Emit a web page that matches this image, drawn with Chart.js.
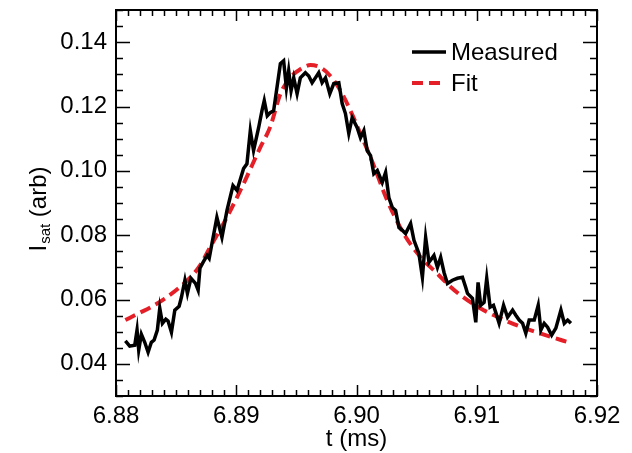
<!DOCTYPE html>
<html>
<head>
<meta charset="utf-8">
<script src="https://cdn.jsdelivr.net/npm/chart.js@4/dist/chart.umd.min.js"></script>
<style>
html,body{margin:0;padding:0;background:#fff;}
#wrap{width:632px;height:453px;position:relative;}
</style>
</head>
<body>
<div id="wrap"><canvas id="c" width="632" height="453"></canvas></div>
<script>
// Measured trace: time (ms) and I_sat (arb)
const measT = [6.88078,6.88114,6.88156,6.88175,6.88189,6.88211,6.88239,6.88267,6.88294,6.88317,
  6.88344,6.88364,6.88386,6.88414,6.88433,6.88461,6.88489,6.88525,6.88544,6.88573,
  6.88594,6.88623,6.88661,6.88683,6.88698,6.88725,6.88758,6.88775,6.88798,6.88839,
  6.88881,6.88923,6.88973,6.89006,6.89061,6.89089,6.89117,6.89144,6.89186,6.89214,
  6.89233,6.89258,6.89283,6.89311,6.89367,6.89394,6.89417,6.89436,6.89456,6.89478,
  6.89506,6.89533,6.89575,6.89603,6.89631,6.89658,6.89686,6.89714,6.89742,6.89778,
  6.89811,6.89853,6.89881,6.89908,6.89936,6.89964,6.90006,6.90033,6.90061,6.90089,
  6.90117,6.90144,6.90173,6.90214,6.90242,6.90269,6.90298,6.90325,6.90353,6.90381,
  6.90408,6.90450,6.90478,6.90519,6.90548,6.90575,6.90603,6.90644,6.90673,6.90700,
  6.90728,6.90756,6.90798,6.90839,6.90881,6.90908,6.90923,6.90964,6.90992,6.91011,
  6.91033,6.91061,6.91083,6.91111,6.91139,6.91158,6.91186,6.91223,6.91256,6.91298,
  6.91325,6.91353,6.91381,6.91408,6.91436,6.91478,6.91511,6.91533,6.91561,6.91589,
  6.91623,6.91658,6.91700,6.91728,6.91756,6.91783];
const measV = [0.0471,0.0455,0.0458,0.0505,0.0443,0.0492,0.0467,0.0436,0.0467,0.0474,
  0.0505,0.0573,0.0526,0.0539,0.0533,0.0498,0.0567,0.0579,0.0607,0.0660,
  0.0619,0.0666,0.0650,0.0629,0.0697,0.0716,0.0737,0.0728,0.0774,0.0855,
  0.0793,0.0877,0.0954,0.0939,0.1007,0.1022,0.1125,0.1063,0.1134,0.1187,
  0.1218,0.1171,0.1181,0.1187,0.1333,0.1342,0.1258,0.1311,0.1249,0.1289,
  0.1240,0.1289,0.1305,0.1295,0.1274,0.1289,0.1305,0.1274,0.1289,0.1240,
  0.1271,0.1274,0.1209,0.1178,0.1116,0.1165,0.1134,0.1103,0.1125,0.1063,
  0.1047,0.0991,0.1001,0.0964,0.0995,0.0917,0.0886,0.0877,0.0824,0.0815,
  0.0805,0.0836,0.0784,0.0743,0.0669,0.0793,0.0716,0.0737,0.0700,0.0731,
  0.0684,0.0650,0.0660,0.0666,0.0669,0.0638,0.0619,0.0604,0.0529,0.0653,
  0.0582,0.0591,0.0666,0.0576,0.0582,0.0560,0.0526,0.0582,0.0545,0.0567,
  0.0551,0.0536,0.0526,0.0495,0.0536,0.0536,0.0582,0.0505,0.0526,0.0514,
  0.0489,0.0511,0.0567,0.0526,0.0536,0.0526];
// Fit curve
const fitT = [6.88078,6.88183,6.88294,6.88406,6.88517,6.88614,6.88698,6.88783,6.88923,6.89061,
  6.89200,6.89283,6.89367,6.89450,6.89533,6.89617,6.89700,6.89783,6.89867,6.89950,
  6.90033,6.90117,6.90256,6.90394,6.90533,6.90673,6.90783,6.90867,6.91033,6.91200,
  6.91367,6.91533,6.91700,6.91783];
const fitV = [0.0536,0.0556,0.0577,0.0603,0.0634,0.0667,0.0705,0.0763,0.0856,0.0960,
  0.1073,0.1137,0.1239,0.1290,0.1316,0.1329,0.1321,0.1295,0.1249,0.1187,
  0.1115,0.1042,0.0908,0.0804,0.0732,0.0680,0.0639,0.0613,0.0572,0.0541,
  0.0515,0.0494,0.0474,0.0465];
// Axes
const xMin = 6.88, xMax = 6.92, xMinorStep = 0.001;
const yMin = 0.03, yMax = 0.15, yMinorStep = 0.005;
const xLabels = ['6.88','6.89','6.90','6.91','6.92'];
const yLabels = ['0.04','0.06','0.08','0.10','0.12','0.14'];
const seriesNames = ['Measured','Fit'];
const xTitle = 't (ms)';
const yTitleMain = 'I', yTitleSub = 'sat', yTitleRest = ' (arb)';

const FONT = "'Liberation Sans', Arial, Helvetica, sans-serif";
const RED = '#E51F27';

function pairs(t, v){ return t.map((x,i)=>({x:x, y:v[i]})); }

const frame = {
  id:'frame',
  afterDraw(chart){
    const ctx = chart.ctx, a = chart.chartArea;
    const xs = chart.scales.x, ys = chart.scales.y;
    ctx.save();
    ctx.strokeStyle = '#000';
    ctx.lineWidth = 1.5;
    xs.ticks.forEach(t=>{
      const px = Math.round(xs.getPixelForValue(t.value))+0.5;
      const major = t.label !== '';
      const len = major ? 11 : 6;
      ctx.beginPath();
      ctx.moveTo(px, a.bottom); ctx.lineTo(px, a.bottom-len);
      ctx.moveTo(px, a.top); ctx.lineTo(px, a.top+len);
      ctx.stroke();
    });
    ys.ticks.forEach(t=>{
      const py = Math.round(ys.getPixelForValue(t.value))+0.5;
      const major = t.label !== '';
      const len = major ? 14 : 7;
      ctx.beginPath();
      ctx.moveTo(a.left, py); ctx.lineTo(a.left+len, py);
      ctx.moveTo(a.right, py); ctx.lineTo(a.right-len, py);
      ctx.stroke();
    });
    ctx.lineWidth = 2;
    ctx.strokeRect(a.left, a.top, a.right-a.left, a.bottom-a.top);
    // x title
    ctx.fillStyle = '#000';
    ctx.font = '24px ' + FONT;
    ctx.textAlign = 'center';
    ctx.textBaseline = 'alphabetic';
    ctx.fillText(xTitle, (a.left+a.right)/2, 446);
    // y title rotated
    ctx.save();
    ctx.translate(46, 209);
    ctx.rotate(-Math.PI/2);
    ctx.textAlign = 'left';
    ctx.font = '24px ' + FONT;
    const w1 = ctx.measureText(yTitleMain).width;
    ctx.font = '15px ' + FONT;
    const w2 = ctx.measureText(yTitleSub).width;
    ctx.font = '24px ' + FONT;
    const w3 = ctx.measureText(yTitleRest).width;
    let x0 = -(w1+w2+1+w3)/2;
    ctx.fillText(yTitleMain, x0, 0);
    ctx.font = '15px ' + FONT;
    ctx.fillText(yTitleSub, x0+w1+1, 4);
    ctx.font = '24px ' + FONT;
    ctx.fillText(yTitleRest, x0+w1+w2+1, 0);
    ctx.restore();
    // legend
    const ds = chart.data.datasets;
    const lx0 = 412, lx1 = 446, ty = [52, 83];
    ds.forEach((d,i)=>{
      ctx.save();
      ctx.strokeStyle = d.borderColor;
      ctx.lineWidth = d.borderWidth;
      ctx.setLineDash(d.borderDash || []);
      ctx.beginPath();
      ctx.moveTo(lx0, ty[i]); ctx.lineTo(lx1, ty[i]);
      ctx.stroke();
      ctx.restore();
      ctx.fillStyle = '#000';
      ctx.font = '24px ' + FONT;
      ctx.textAlign = 'left';
      ctx.textBaseline = 'middle';
      ctx.fillText(d.label, 451, ty[i]+1);
    });
    ctx.restore();
  }
};

function labelCb(list){
  return function(v){
    const s = (Math.round(v*100)/100).toFixed(2);
    return (Math.abs(v*100 - Math.round(v*100)) < 1e-6 && list.includes(s)) ? s : '';
  };
}

new Chart(document.getElementById('c'), {
  type:'line',
  data:{
    datasets:[
      {label:seriesNames[0], data:pairs(measT, measV), borderColor:'#000', borderWidth:3.5,
       pointRadius:0, tension:0, borderJoinStyle:'miter', fill:false},
      {label:seriesNames[1], data:pairs(fitT, fitV), borderColor:RED, borderWidth:4,
       borderDash:[11,6], pointRadius:0, cubicInterpolationMode:'monotone', fill:false}
    ]
  },
  options:{
    responsive:false, animation:false, events:[],
    layout:{padding:{top:10, right:35, left:0, bottom:0}},
    plugins:{legend:{display:false}, tooltip:{enabled:false}},
    scales:{
      x:{type:'linear', min:xMin, max:xMax,
        afterFit(s){ s.height = 57; s.paddingLeft = 0; s.paddingRight = 0; },
        grid:{display:true, drawOnChartArea:false, drawTicks:false},
        border:{display:false},
        ticks:{stepSize:xMinorStep, autoSkip:false, maxRotation:0, padding:6,
          color:'#000', font:{family:FONT, size:24}, callback:labelCb(xLabels)}
      },
      y:{type:'linear', min:yMin, max:yMax,
        afterFit(s){ s.width = 116; s.paddingTop = 0; s.paddingBottom = 0; },
        grid:{display:true, drawOnChartArea:false, drawTicks:false},
        border:{display:false},
        ticks:{stepSize:yMinorStep, autoSkip:false, padding:9,
          color:'#000', font:{family:FONT, size:24}, callback:labelCb(yLabels)}
      }
    }
  },
  plugins:[frame]
});
</script>
</body>
</html>
